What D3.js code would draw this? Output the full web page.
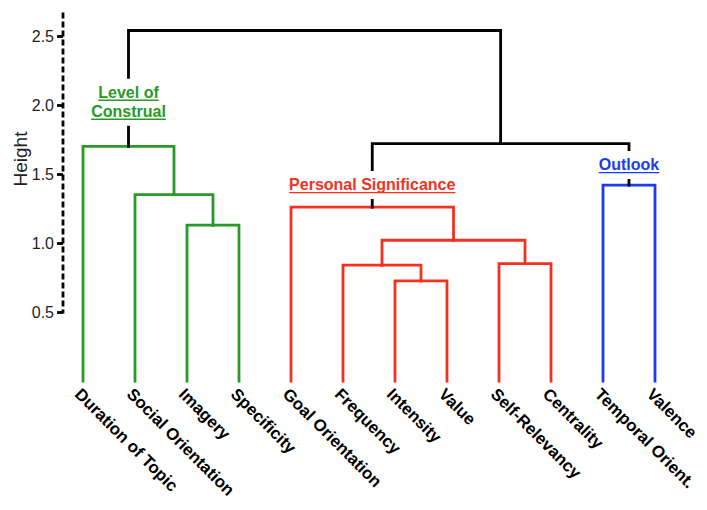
<!DOCTYPE html>
<html>
<head>
<meta charset="utf-8">
<script src="https://cdn.jsdelivr.net/npm/d3@7"></script>
<style>
  html, body { margin: 0; padding: 0; background: #fff; }
  svg { display: block; font-family: "Liberation Sans", Arial, sans-serif; }
</style>
</head>
<body>
<svg id="chart" width="707" height="510"></svg>
<script>
// Leaves (left to right)
const leaves = ["Duration of Topic", "Social Orientation", "Imagery", "Specificity",
  "Goal Orientation", "Frequency", "Intensity", "Value", "Self-Relevancy",
  "Centrality", "Temporal Orient.", "Valence"];

// hclust-style merges: negative = leaf index (1-based), positive = earlier merge (1-based)
const mergeLeft   = [-7, -6, -9, 2, -3, -5, -2, -11, -1, 8, 9];
const mergeRight  = [-8,  1, -10, 3, -4, 4,  5, -12,  7, 6, 10];
const mergeHeight = [0.725, 0.84, 0.85, 1.02, 1.13, 1.26, 1.35, 1.42, 1.70, 1.72, 2.54];

// clusters: merge index (1-based) that roots each coloured cluster
const clusterNames  = [["Level of", "Construal"], ["Personal Significance"], ["Outlook"]];
const clusterRoots  = [9, 6, 8];
const clusterColors = ["#279a27", "#f2321e", "#1b3cf2"];
const clusterLabelHeights = [2.02, 1.42, 1.565];

const tickValues = [0.5, 1.0, 1.5, 2.0, 2.5];
const axisTop = 2.67;

const svg = d3.select("#chart");
const x = d3.scalePoint().domain(leaves).range([83, 655]);
const y = d3.scaleLinear().domain([0, 2.5]).range([381, 36]);

// compute node positions
const nodes = [];
function leafNode(i) { return { x: x(leaves[i]), h: 0, leaf: true }; }
function getNode(ref) { return ref < 0 ? leafNode(-ref - 1) : nodes[ref - 1]; }
for (let k = 0; k < mergeHeight.length; k++) {
  const a = getNode(mergeLeft[k]), b = getNode(mergeRight[k]);
  nodes.push({ x: (a.x + b.x) / 2, h: mergeHeight[k], left: a, right: b, id: k + 1 });
}

// assign colours
function paint(node, color) {
  node.color = color;
  if (!node.leaf) { paint(node.left, color); paint(node.right, color); }
}
function markBlack(node) {
  if (node.leaf) return;
  const ci = clusterRoots.indexOf(node.id);
  if (ci >= 0) { paint(node, clusterColors[ci]); return; }
  node.color = "#000";
  markBlack(node.left); markBlack(node.right);
}
const root = nodes[nodes.length - 1];
markBlack(root);

const g = svg.append("g");
nodes.forEach(n => {
  [n.left, n.right].forEach(c => {
    g.append("path")
      .attr("d", `M${c.x},${y(c.h)}V${y(n.h)}H${n.x}`)
      .attr("fill", "none")
      .attr("stroke", n.color)
      .attr("stroke-width", 2.8)
      .attr("stroke-linecap", "square");
  });
});

// cluster labels with white boxes
clusterNames.forEach((lines, i) => {
  const node = nodes[clusterRoots[i] - 1];
  const cy = y(clusterLabelHeights[i]);
  const lh = 19;
  const lg = svg.append("g");
  const rect = lg.append("rect").attr("fill", "#fff");
  const startY = cy - (lines.length - 1) * lh / 2 + 5;
  let maxW = 0;
  lines.forEach((t, j) => {
    const txt = lg.append("text")
      .attr("x", node.x).attr("y", startY + j * lh)
      .attr("text-anchor", "middle")
      .attr("font-size", 16).attr("font-weight", "bold")
      .attr("fill", clusterColors[i]).text(t);
    const w = txt.node().getComputedTextLength();
    maxW = Math.max(maxW, w);
    lg.append("line")
      .attr("x1", node.x - w / 2).attr("x2", node.x + w / 2)
      .attr("y1", startY + j * lh + 2.5).attr("y2", startY + j * lh + 2.5)
      .attr("stroke", clusterColors[i]).attr("stroke-width", 1.3);
  });
  const top = startY - 19, bottom = startY + (lines.length - 1) * lh + 9;
  rect.attr("x", node.x - maxW / 2 - 4).attr("width", maxW + 8)
    .attr("y", top).attr("height", bottom - top);
});

// leaf labels
leaves.forEach(l => {
  svg.append("text")
    .attr("transform", `translate(${x(l) - 5},${391}) rotate(45)`)
    .attr("dy", "0.35em")
    .attr("font-size", 16.8).attr("font-weight", "bold")
    .attr("fill", "#000").text(l);
});

// y axis
const axisG = svg.append("g").attr("transform", "translate(63,0)");
axisG.call(d3.axisLeft(y).tickValues(tickValues).tickSize(6).tickPadding(3)
  .tickFormat(d3.format(".1f")));
axisG.select(".domain").remove();
axisG.selectAll(".tick line").attr("stroke-width", 2.8).attr("stroke", "#000");
axisG.selectAll(".tick text").attr("font-size", 16).attr("fill", "#222")
  .attr("font-family", "\"Liberation Sans\", Arial, sans-serif");
axisG.append("line")
  .attr("x1", 0).attr("x2", 0)
  .attr("y1", y(axisTop)).attr("y2", y(tickValues[0]) + 1.4)
  .attr("stroke", "#000").attr("stroke-width", 2.8)
  .attr("stroke-dasharray", "6,3");

svg.append("text")
  .attr("transform", `translate(27,159) rotate(-90)`)
  .attr("text-anchor", "middle")
  .attr("font-size", 19).attr("fill", "#222").text("Height");
</script>
</body>
</html>
